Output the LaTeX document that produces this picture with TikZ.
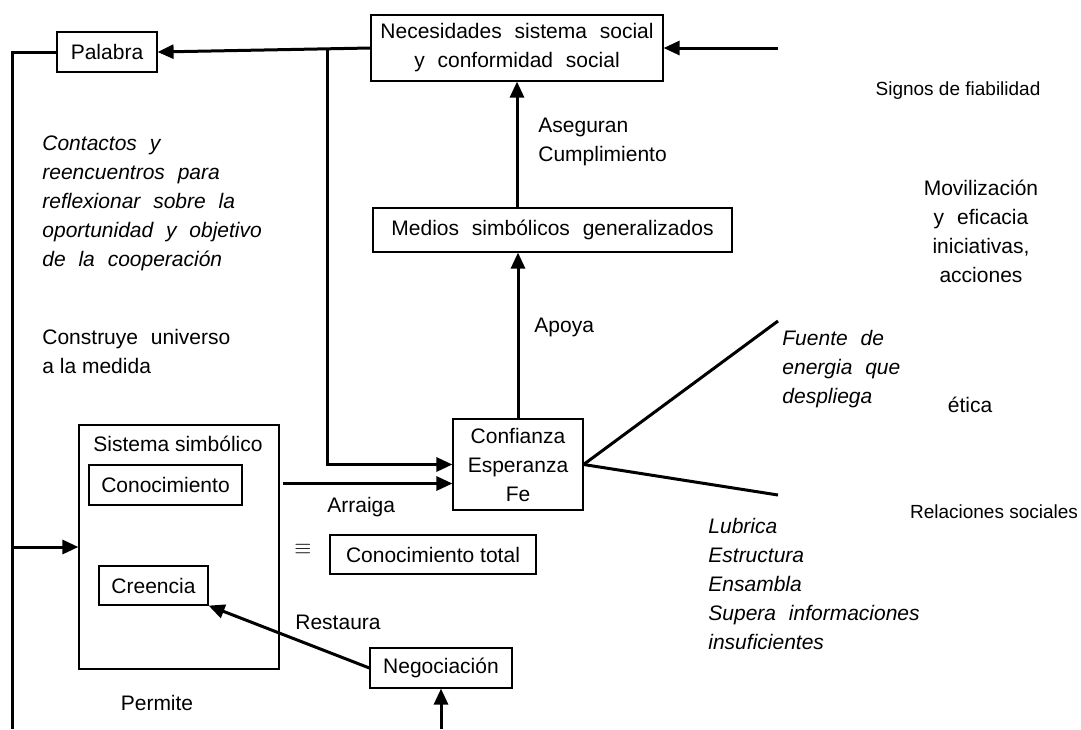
\documentclass[tikz,border=0pt]{standalone}
\usepackage{fontspec}
\setmainfont{Liberation Sans}[WordSpace=2.2]
\newfontfamily\plainsf{Liberation Sans}
\usetikzlibrary{arrows.meta}

\begin{document}
\begin{tikzpicture}[x=.5pt,y=-.5pt,
  every node/.style={inner sep=0pt,font=\fontsize{10.5}{14.5}\selectfont},
  box/.style={draw,line width=.6pt,align=center},
  tight/.style={font=\plainsf\fontsize{10.5}{14.5}\selectfont},
  small/.style={font=\plainsf\fontsize{9.5}{13}\selectfont},
  slant/.style={font=\itshape\fontsize{10.5}{14.5}\selectfont},
  note/.style={align=left,anchor=north west},
  wire/.style={line width=1.5pt},
  arr/.style={wire,-{Triangle[length=8pt,width=7pt]}}]
\useasboundingbox (0,0) rectangle (1081,729);

\node[box,minimum width=50pt,minimum height=20pt] (palabra) at (107,52) {Palabra};
\node[box,minimum width=146pt,minimum height=33pt] (necesid) at (517,48) {Necesidades sistema social\\y conformidad social};
\node[box,minimum width=179.5pt,minimum height=22pt] (medios) at (552.5,230) {Medios simbólicos generalizados};
\node[box,minimum width=65pt,minimum height=45.5pt] (confianza) at (518,464.5) {Confianza\\Esperanza\\Fe};
\node[box,minimum width=100pt,minimum height=122pt] (sistema) at (179,547) {};
\node[tight,anchor=base] (sistit) at (178,451) {Sistema simbólico};
\node[box,tight,minimum width=76.5pt,minimum height=20pt] (conoc) at (165.5,485) {Conocimiento};
\node[box,tight,minimum width=54.5pt,minimum height=19.5pt] (creencia) at (153.5,585.5) {Creencia};
\node[box,tight,minimum width=103pt,minimum height=19.5pt] (conotot) at (433,554.5) {Conocimiento total};
\node[box,tight,minimum width=71pt,minimum height=20pt] (negoc) at (441,668) {Negociación};

\coordinate (lefttop) at (12,52);
\coordinate (leftbot) at (12,729);
\coordinate (split) at (327,50);
\coordinate (rightin) at (778,48);
\coordinate (fuente) at (778,321);
\coordinate (relac) at (778,495);
\coordinate (negin) at (441,729);
\coordinate (confin) at ([yshift=-9.5pt]confianza.west);

\draw[wire] (palabra.west) -- (lefttop) -- (leftbot);
\draw[arr] (lefttop |- sistema.west) -- (sistema.west);
\draw[arr] (necesid.west) -- (palabra.east);
\draw[arr] (split) |- (confianza.west);
\draw[arr] (rightin) -- (necesid.east);
\draw[arr] (medios.north -| necesid.south) -- (necesid.south);
\draw[arr] (confianza.north) -- (confianza.north |- medios.south);
\draw[arr] ([xshift=1.5pt]sistema.east |- confin) -- (confin);
\draw[wire] (confianza.east) -- (fuente);
\draw[wire] (confianza.east) -- (relac);
\draw[arr] (negoc.west) -- (creencia.south east);
\draw[arr] (negin) -- (negoc.south);

\node[note] (asegura) at (538,118) {Aseguran\\Cumplimiento};
\node[anchor=base west] (apoya) at (534,332) {Apoya};
\node[anchor=base west] (arraiga) at (327,512) {Arraiga};
\node (equiv) at (303,549) {$\equiv$};
\node[anchor=base west] (restaura) at (295,629) {Restaura};
\node[tight,anchor=base] (permite) at (157,710) {Permite};
\node[small,anchor=base] (signos) at (958,95) {Signos de fiabilidad};
\node[small,anchor=base] (relsoc) at (994,518) {Relaciones sociales};
\node[align=center,anchor=north] (moviliz) at (981,180) {Movilización\\y eficacia\\iniciativas,\\acciones};
\node[anchor=base] (etica) at (970,412) {ética};
\node[note,slant] (fuentetxt) at (782,330) {Fuente de\\energia que\\despliega};
\node[note,slant] (lubrica) at (708,518) {Lubrica\\Estructura\\Ensambla\\Supera informaciones\\insuficientes};
\node[note,slant] (contactos) at (42,135) {Contactos y\\reencuentros para\\reflexionar sobre la\\oportunidad y objetivo\\de la cooperación};
\node[note] (construye) at (42,329) {Construye universo\\{\plainsf a la medida}};
\end{tikzpicture}
\end{document}
